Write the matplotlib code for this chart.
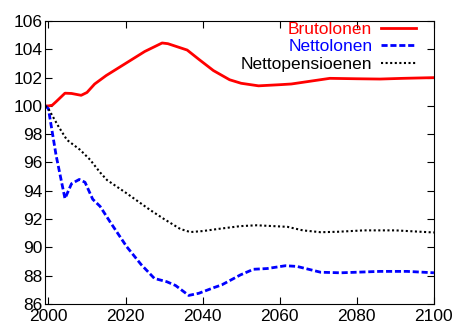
import matplotlib.pyplot as plt
from matplotlib.ticker import MultipleLocator

plt.rcParams['font.family'] = ['Liberation Sans', 'DejaVu Sans']
plt.rcParams['font.size'] = 12.5

# data (index, 2000 = 100)
years_bruto = [1999.2, 2000, 2001, 2002, 2004.3, 2006, 2008.5, 2010, 2012, 2015, 2020,
               2025, 2029.5, 2031, 2036, 2039, 2042.8, 2047, 2050, 2054.5, 2060,
               2063, 2068, 2073, 2080, 2086, 2092, 2100]
bruto = [100.0, 100.0, 100.05, 100.3, 100.9, 100.88, 100.75, 100.95, 101.55, 102.15, 103.0,
         103.85, 104.45, 104.4, 103.95, 103.3, 102.5, 101.85, 101.6, 101.42, 101.5,
         101.55, 101.75, 101.95, 101.92, 101.9, 101.95, 102.0]

years_netto = [1999.2, 2000, 2002, 2004.3, 2006, 2008, 2009.5, 2011.5, 2013.4, 2016, 2020.3,
               2024, 2027.5, 2030.7, 2033, 2036.4, 2039, 2042.9, 2045, 2049.8, 2053.2,
               2056.7, 2061.5, 2064.5, 2070.6, 2075.8, 2086, 2093, 2100]
netto = [100.0, 99.8, 96.5, 93.45, 94.5, 94.8, 94.6, 93.4, 92.9, 91.8, 90.05,
         88.8, 87.8, 87.57, 87.3, 86.6, 86.75, 87.15, 87.35, 88.05, 88.45,
         88.5, 88.7, 88.65, 88.24, 88.2, 88.3, 88.3, 88.2]

years_pensioen = [1999.2, 2000, 2002.5, 2004.8, 2008.2, 2010.8, 2013.4, 2015.2, 2020.4,
                  2026.4, 2030, 2034.2, 2036.8, 2040, 2044, 2049.8, 2054, 2062,
                  2066, 2070.6, 2075, 2081.8, 2090, 2100]
pensioen = [100.0, 99.8, 98.6, 97.6, 96.9, 96.2, 95.3, 94.76, 93.8,
            92.64, 92.0, 91.3, 91.08, 91.15, 91.3, 91.5, 91.56, 91.45,
            91.2, 91.07, 91.1, 91.2, 91.2, 91.05]

labels = ['Brutolonen', 'Nettolonen', 'Nettopensioenen']
colors = ['#ff0000', '#0000ff', '#000000']
xticks = [2000, 2020, 2040, 2060, 2080, 2100]

fig = plt.figure(figsize=(4.54, 3.24), dpi=100)
ax = fig.add_axes([0.0998, 0.062, 0.856, 0.873])

ax.plot(years_bruto, bruto, color=colors[0], lw=2, label=labels[0])
ax.plot(years_netto, netto, color=colors[1], lw=2, linestyle=(0, (2.2, 1)), label=labels[1])
ax.plot(years_pensioen, pensioen, color=colors[2], lw=1.5, linestyle=(0, (1, 1.2)),
        label=labels[2])

ax.set_xlim(1999.2, 2100)
ax.set_ylim(86, 106)
ax.set_xticks(xticks)
ax.yaxis.set_major_locator(MultipleLocator(2))
ax.tick_params(direction='in', top=True, right=True, length=5, width=0.8, pad=2)
ax.tick_params(axis='x', pad=4)
for lbl in ax.get_yticklabels():
    lbl.set_verticalalignment('center_baseline')
for s in ax.spines.values():
    s.set_linewidth(0.8)

ax.legend(loc='upper right', bbox_to_anchor=(0.98, 1.035), frameon=False,
          markerfirst=False, handlelength=2.0, handletextpad=0.5,
          labelspacing=0.15, labelcolor='linecolor', borderaxespad=0.2)

plt.savefig('out.png', dpi=100)
